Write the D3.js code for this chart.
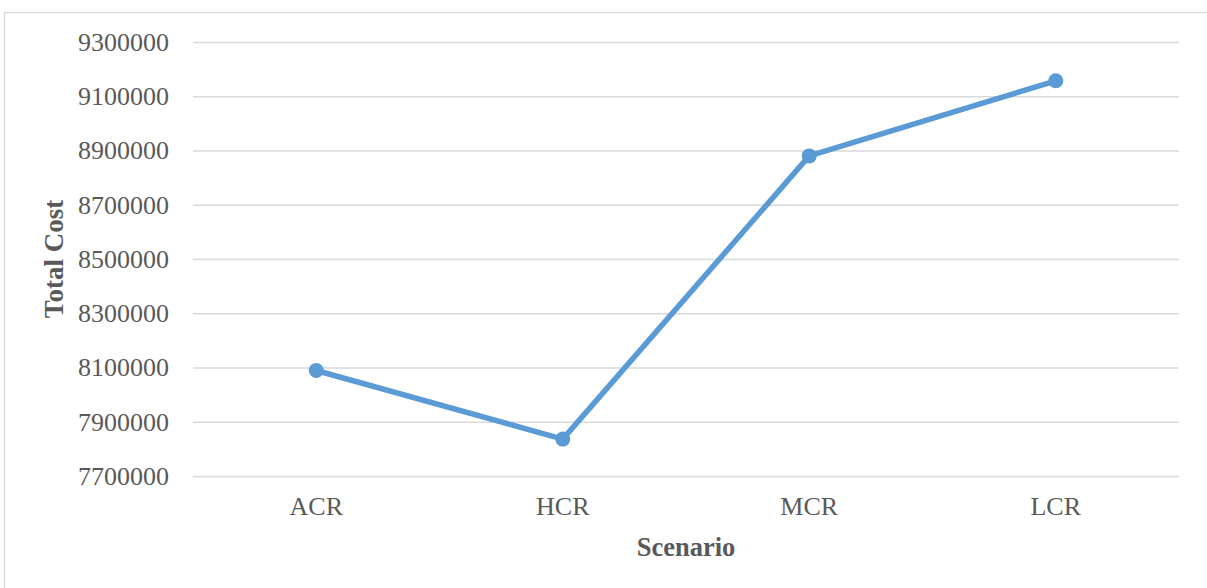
<!DOCTYPE html>
<html>
<head>
<meta charset="utf-8">
<script src="https://cdn.jsdelivr.net/npm/d3@7"></script>
<style>
  body { margin: 0; background: #fff; }
  text { font-family: "Liberation Serif", "Times New Roman", serif; fill: #595959; }
</style>
</head>
<body>
<div id="chart"></div>
<script>
        var scenarios = ["ACR", "HCR", "MCR", "LCR"];
        var totalCost = [8089000, 7836000, 8880000, 9157000];
        var yTicks = [7700000, 7900000, 8100000, 8300000, 8500000, 8700000, 8900000, 9100000, 9300000];

        var W = 1207, H = 588;
        var margin = {
                top: 42,
                right: 28,
                bottom: 112,
                left: 193
            },
            width = W - margin.left - margin.right,
            height = H - margin.top - margin.bottom;

        var svgRoot = d3.select("#chart").append("svg")
            .attr("width", W)
            .attr("height", H);

        // outer frame
        svgRoot.append("rect")
            .attr("x", 4.5)
            .attr("y", 12.5)
            .attr("width", W + 10)
            .attr("height", H + 10)
            .attr("fill", "none")
            .attr("stroke", "#d9d9d9")
            .attr("stroke-width", 1.3);

        var svg = svgRoot.append("g")
            .attr("transform", "translate(" + margin.left + "," + margin.top + ")");

        var x = d3.scaleBand()
            .domain(scenarios)
            .range([0, width]);

        var y = d3.scaleLinear()
            .domain([7700000, 9300000])
            .range([height, 0]);

        var yAxis = d3.axisLeft(y)
            .tickValues(yTicks)
            .tickSize(-width)
            .tickPadding(24)
            .tickFormat(d3.format("d"));

        var gy = svg.append("g")
            .attr("class", "y axis")
            .call(yAxis);
        gy.select(".domain").remove();
        gy.selectAll("line")
            .attr("stroke", "#d9d9d9")
            .attr("stroke-width", 1.3);
        gy.selectAll("text")
            .style("font-size", "26px")
            .attr("fill", "#595959");

        var xAxis = d3.axisBottom(x)
            .tickSize(0)
            .tickPadding(21);

        var gx = svg.append("g")
            .attr("class", "x axis")
            .attr("transform", "translate(0," + height + ")")
            .call(xAxis);
        gx.select(".domain").remove();
        gx.selectAll("text")
            .style("font-size", "26px")
            .attr("fill", "#595959");

        var data = scenarios.map(function (s, i) {
            return { name: s, value: totalCost[i] };
        });

        var line = d3.line()
            .x(function (d) { return x(d.name) + x.bandwidth() / 2; })
            .y(function (d) { return y(d.value); });

        svg.append("path")
            .datum(data)
            .attr("fill", "none")
            .attr("stroke", "#5b9bd5")
            .attr("stroke-width", 5.5)
            .attr("stroke-linejoin", "round")
            .attr("d", line);

        svg.selectAll(".dot")
            .data(data)
            .enter().append("circle")
            .attr("class", "dot")
            .attr("cx", function (d) { return x(d.name) + x.bandwidth() / 2; })
            .attr("cy", function (d) { return y(d.value); })
            .attr("r", 7.5)
            .attr("fill", "#5b9bd5");

        // axis titles
        svg.append("text")
            .attr("x", width / 2)
            .attr("y", height + 80)
            .attr("text-anchor", "middle")
            .style("font-size", "26.5px")
            .style("font-weight", "bold")
            .text("Scenario");

        svg.append("text")
            .attr("transform", "translate(" + (-130) + "," + (height / 2) + ") rotate(-90)")
            .attr("text-anchor", "middle")
            .style("font-size", "27px")
            .style("font-weight", "bold")
            .text("Total Cost");
</script>
</body>
</html>
